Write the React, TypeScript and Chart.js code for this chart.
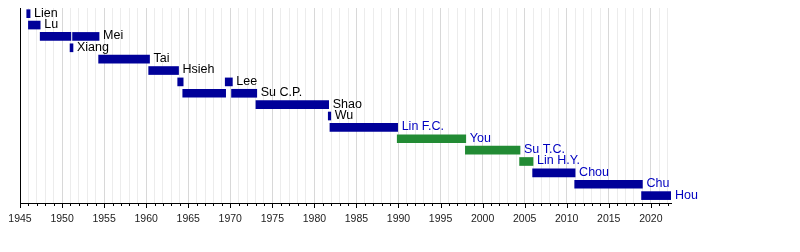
import React, { useEffect, useRef } from 'react';
import { Chart, registerables } from 'chart.js';

Chart.register(...registerables);

// Row names (one row per mayor / term group)
const names = [
  'Lien', 'Lu', 'Mei', 'Xiang', 'Tai', 'Hsieh', 'Lee', 'Su C.P.', 'Shao', 'Wu',
  'Lin F.C.', 'You', 'Su T.C.', 'Lin H.Y.', 'Chou', 'Chu', 'Hou',
];
// Label colour group per row: 'k' = black, 'b' = blue
const labelGroups = ['k', 'k', 'k', 'k', 'k', 'k', 'k', 'k', 'k', 'k', 'b', 'b', 'b', 'b', 'b', 'b', 'b'];

// Term segments (a row may have several)
const segRows = [0, 1, 2, 2, 3, 4, 5, 6, 6, 7, 7, 8, 9, 10, 11, 12, 13, 14, 15, 16];
const segStarts = [
  1945.8, 1946.0, 1947.4, 1951.25, 1950.95, 1954.35, 1960.3, 1963.75, 1969.4, 1964.35,
  1970.15, 1973.05, 1981.65, 1981.85, 1989.85, 1997.95, 2004.4, 2005.95, 2010.95, 2018.9,
];
const segEnds = [
  1946.2, 1947.4, 1951.05, 1954.4, 1951.3, 1960.4, 1963.85, 1964.4, 1970.25, 1969.45,
  1973.15, 1981.7, 1981.95, 1989.9, 1998.0, 2004.45, 2006.0, 2011.0, 2019.0, 2022.4,
];
// Party per segment: 'n' = navy, 'g' = green
const segParty = ['n', 'n', 'n', 'n', 'n', 'n', 'n', 'n', 'n', 'n', 'n', 'n', 'n', 'n', 'g', 'g', 'g', 'n', 'n', 'n'];

const yearMin = 1945;
const yearMax = 2022.4;

const NAVY = '#000099';
const GREEN = '#228b34';
const LABEL_BLUE = '#0000c0';
const FONT = '"Liberation Sans", Arial, sans-serif';

export default function App() {
  const ref = useRef<HTMLCanvasElement | null>(null);

  useEffect(() => {
    const canvas = ref.current;
    if (!canvas) return;

    const labelPlugin = {
      id: 'rowLabels',
      afterDatasetsDraw(chart: any) {
        const { ctx } = chart;
        const xs = chart.scales.x;
        const ys = chart.scales.y;
        ctx.save();
        ctx.font = `12.5px ${FONT}`;
        ctx.textAlign = 'left';
        ctx.textBaseline = 'middle';
        names.forEach((name, r) => {
          let end = -Infinity;
          segRows.forEach((sr, i) => {
            if (sr === r) end = Math.max(end, segEnds[i]);
          });
          ctx.fillStyle = labelGroups[r] === 'b' ? LABEL_BLUE : '#000';
          ctx.fillText(name, xs.getPixelForValue(end) + 4, ys.getPixelForValue(r) - 0.5);
        });
        ctx.restore();
      },
      afterDraw(chart: any) {
        const { ctx, chartArea } = chart;
        const xs = chart.scales.x;
        ctx.save();
        ctx.strokeStyle = '#000';
        ctx.lineWidth = 1;
        for (let yr = Math.ceil(yearMin); yr <= yearMax; yr++) {
          const px = Math.round(xs.getPixelForValue(yr)) + 0.5;
          const len = yr % 5 === 0 ? 5 : 3;
          ctx.beginPath();
          ctx.moveTo(px, chartArea.bottom);
          ctx.lineTo(px, chartArea.bottom + len);
          ctx.stroke();
        }
        ctx.restore();
      },
    };

    const chart = new Chart(canvas, {
      type: 'bar',
      data: {
        datasets: [
          {
            data: segRows.map((r, i) => ({ x: [segStarts[i], segEnds[i]], y: r })) as any,
            backgroundColor: segParty.map((p) => (p === 'g' ? GREEN : NAVY)),
            borderWidth: 0,
            barThickness: 8,
            grouped: false,
          } as any,
        ],
      },
      options: {
        indexAxis: 'y',
        animation: false,
        responsive: false,
        devicePixelRatio: 1,
        layout: { padding: { left: 20, right: 129, top: 8, bottom: 9 } },
        plugins: { legend: { display: false }, tooltip: { enabled: false } },
        scales: {
          y: {
            type: 'linear',
            reverse: true,
            min: -0.5,
            max: 16.65,
            bounds: 'data',
            offset: false,
            ticks: { display: false },
            grid: { display: false, offset: false },
            border: { display: true, color: '#000', width: 1 },
            afterFit: (s: any) => {
              s.width = 0;
            },
          },
          x: {
            type: 'linear',
            position: 'bottom',
            min: yearMin,
            max: yearMax,
            bounds: 'data',
            offset: false,
            ticks: {
              stepSize: 1,
              autoSkip: false,
              maxRotation: 0,
              includeBounds: false,
              maxTicksLimit: 200,
              color: '#222',
              padding: 5,
              font: { size: 10.5, family: FONT },
              callback: (v: any) => (Number(v) % 5 === 0 ? String(v) : ''),
            },
            grid: {
              color: (c: any) => (c.tick && c.tick.value % 5 === 0 ? '#d8d8d8' : '#ececec'),
              tickLength: 5,
              tickColor: 'rgba(0,0,0,0)',
            },
            border: { display: true, color: '#000', width: 1 },
            afterFit: (s: any) => {
              s.height = 40;
            },
          } as any,
        },
      } as any,
      plugins: [labelPlugin],
    });

    return () => chart.destroy();
  }, []);

  return (
    <div style={{ position: 'fixed', left: 0, top: 0, width: 800, height: 252, background: '#fff' }}>
      <canvas ref={ref} width={800} height={252} style={{ width: 800, height: 252, display: 'block' }} />
    </div>
  );
}
